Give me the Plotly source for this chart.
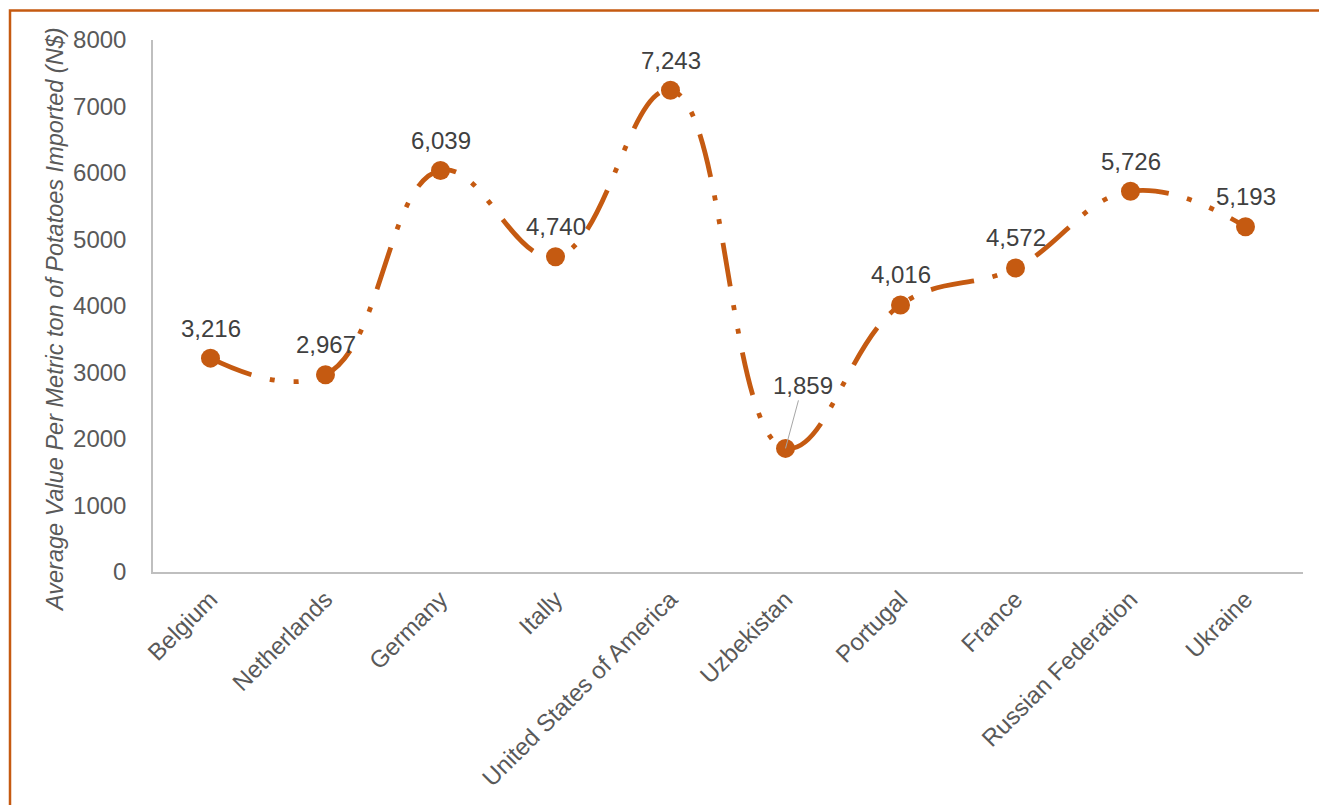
import plotly.graph_objects as go

# Average value per metric ton of potatoes imported, by origin country
countries = ["Belgium", "Netherlands", "Germany", "Itally", "United States of America",
             "Uzbekistan", "Portugal", "France", "Russian Federation", "Ukraine"]
values = [3216, 2967, 6039, 4740, 7243, 1859, 4016, 4572, 5726, 5193]
y_ticks = [0, 1000, 2000, 3000, 4000, 5000, 6000, 7000, 8000]

ORANGE = "#C55A11"
FONT = "Liberation Sans, Arial, sans-serif"

W, H = 1319, 805
L, R, T, B = 153, 16, 40, 233
pw, ph = W - L - R, H - T - B


def px_to_paper_x(px):
    return (px - L) / pw


def px_to_paper_y(py):
    return (H - B - py) / ph


fig = go.Figure()
fig.add_trace(go.Scatter(
    x=countries, y=values,
    mode="lines+markers",
    line=dict(color=ORANGE, width=4.8, shape="spline", smoothing=1.2,
              dash="44px,19px,5px,19px,5px,19px"),
    marker=dict(color=ORANGE, size=19),
    hoverinfo="skip",
))

annotations = []
for c, v in zip(countries, values):
    label = f"{v:,}"
    if c == "Uzbekistan":
        annotations.append(dict(
            x=c, y=v, text=label, showarrow=True, arrowhead=0, arrowwidth=1,
            arrowcolor="#A6A6A6", ax=17, ay=-63, standoff=0,
            font=dict(family=FONT, size=24, color="#404040"),
        ))
    else:
        annotations.append(dict(
            x=c, y=v, text=label, showarrow=False, yshift=30,
            font=dict(family=FONT, size=24, color="#404040"),
        ))

annotations.append(dict(
    xref="paper", yref="paper",
    x=px_to_paper_x(55), y=px_to_paper_y(320),
    xanchor="center", yanchor="middle",
    text="<i>Average Value Per Metric ton of Potatoes Imported (N$)</i>",
    textangle=-90, showarrow=False,
    font=dict(family=FONT, size=23.5, color="#595959"),
))

# Outer chart border (partly running off the page)
shapes = [dict(
    type="rect", xref="paper", yref="paper",
    x0=px_to_paper_x(10), x1=px_to_paper_x(1340),
    y0=px_to_paper_y(830), y1=px_to_paper_y(10.5),
    line=dict(color=ORANGE, width=2.5), fillcolor="rgba(0,0,0,0)",
)]

fig.update_layout(
    width=W, height=H,
    margin=dict(l=L, r=R, t=T, b=B),
    paper_bgcolor="white", plot_bgcolor="white",
    showlegend=False,
    annotations=annotations,
    shapes=shapes,
    xaxis=dict(
        type="category", range=[-0.5, 9.5],
        showline=True, linecolor="#BFBFBF", linewidth=1.5,
        showgrid=False, zeroline=False, ticks="",
        tickangle=-45, ticklabelstandoff=2,
        tickfont=dict(family=FONT, size=24, color="#595959"),
    ),
    yaxis=dict(
        range=[0, 8000], tickvals=y_ticks, tickformat="d",
        showline=True, linecolor="#BFBFBF", linewidth=1.5,
        showgrid=False, zeroline=False, ticks="",
        ticklabelstandoff=20,
        tickfont=dict(family=FONT, size=24, color="#595959"),
    ),
)

fig.write_html("out.html")
